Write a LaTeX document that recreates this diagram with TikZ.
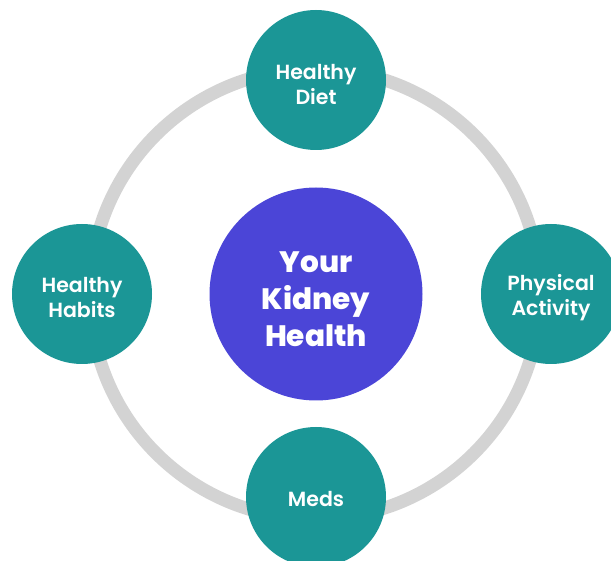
\documentclass[tikz,border=0pt]{standalone}
\usepackage{fontspec}
\setmainfont{Poppins}
\newfontfamily\semifont{Poppins}[UprightFont=* SemiBold]
\newfontfamily\heavyfont{Poppins}[UprightFont=* ExtraBold]
\definecolor{tealfill}{HTML}{1B9696}
\definecolor{hubfill}{HTML}{4B45D7}
\definecolor{ringgray}{HTML}{D3D3D3}
\begin{document}
\begin{tikzpicture}[x=1pt,y=-1pt,
  sat/.style={circle, fill=tealfill, minimum size=140pt, inner sep=0pt},
  sattext/.style={text=white, align=center, inner sep=0pt,
    font=\semifont\fontsize{20.5}{25}\selectfont},
  hub/.style={circle, fill=hubfill, minimum size=213pt, inner sep=0pt},
  hubtext/.style={text=white, align=center, inner sep=0pt,
    font=\heavyfont\fontsize{29.5}{37}\selectfont},
  ringstyle/.style={circle, draw=ringgray, line width=13pt, minimum size=450pt, inner sep=0pt}]
\useasboundingbox (0,0) rectangle (611,561);
\clip (0,0) rectangle (611,561);
\node[ringstyle] (ring) at (315,294) {};
\node[hub] (hub) at (316,294) {};
\node[hubtext] (hubt) at ([yshift=-5pt]hub.center) {Your\\Kidney\\Health};
\node[sat] (diet) at (316,80) {};
\node[sattext] (dietT) at ([yshift=-5pt]diet.center) {Healthy\\Diet};
\node[sat] (habits) at (82,294) {};
\node[sattext] (habitsT) at ([yshift=-4pt]habits.center) {Healthy\\Habits};
\node[sat] (activity) at (551,294) {};
\node[sattext] (activityT) at ([yshift=-4pt]activity.center) {Physical\\Activity};
\node[sat] (meds) at (316,497) {};
\node[sattext] (medsT) at ([yshift=-2pt]meds.center) {Meds};
\end{tikzpicture}
\end{document}
